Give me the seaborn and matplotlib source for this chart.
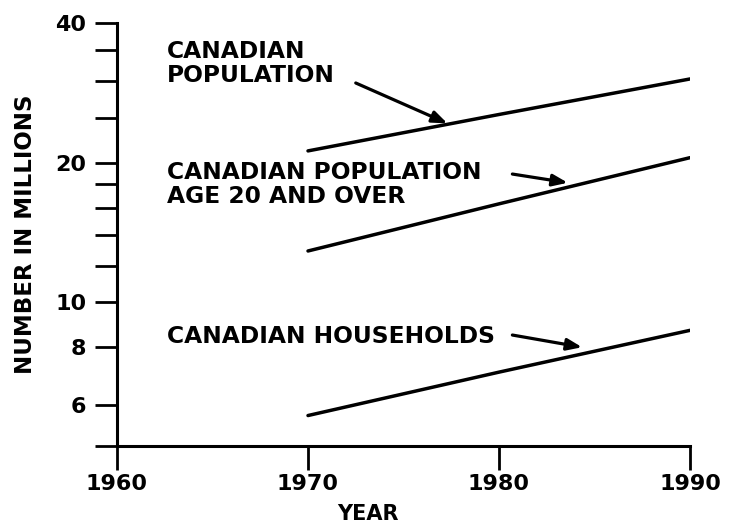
import numpy as np
import pandas as pd
import seaborn as sns
import matplotlib.pyplot as plt
from matplotlib.ticker import FixedLocator, NullFormatter

# values (millions)
years = [1970, 1980, 1990]
population = [21.2, 25.4, 30.3]
population_20_over = [12.9, 16.3, 20.5]
households = [5.7, 7.07, 8.7]

major_ticks = [6, 8, 10, 20, 40]
minor_ticks = [4.9, 12, 14, 16, 18, 25, 30, 35]
x_ticks = [1960, 1970, 1980, 1990]

df = pd.DataFrame({
    "year": years * 3,
    "value": population + population_20_over + households,
    "series": ["pop"] * 3 + ["pop20"] * 3 + ["hh"] * 3,
})

sns.set_style("ticks")
plt.rcParams["font.family"] = ["DejaVu Sans"]
plt.rcParams["font.weight"] = "bold"
plt.rcParams["text.color"] = "black"
plt.rcParams["axes.labelcolor"] = "black"

fig = plt.figure(figsize=(7.29, 5.26), dpi=100)
ax = fig.add_axes([117 / 729, 80 / 526, (690 - 117) / 729, (446 - 23) / 526])

sns.lineplot(data=df, x="year", y="value", hue="series",
             palette=["black", "black", "black"], linewidth=2.5,
             legend=False, ax=ax)

ax.set_yscale("log")
ax.set_ylim(4.9, 40)
ax.set_xlim(1960, 1990)

ax.yaxis.set_major_locator(FixedLocator(major_ticks))
ax.yaxis.set_major_formatter(plt.FixedFormatter([str(t) for t in major_ticks]))
ax.yaxis.set_minor_locator(FixedLocator(minor_ticks))
ax.yaxis.set_minor_formatter(NullFormatter())
ax.set_xticks(x_ticks)
ax.set_xticklabels([str(t) for t in x_ticks])

for s in ["top", "right"]:
    ax.spines[s].set_visible(False)
for s in ["left", "bottom"]:
    ax.spines[s].set_linewidth(2.2)
    ax.spines[s].set_color("black")

ax.tick_params(axis="y", which="both", length=16, width=2, direction="out",
               pad=6, labelsize=16, colors="black")
ax.tick_params(axis="x", which="major", length=17, width=2, direction="out",
               pad=3, labelsize=16, colors="black")

ax.set_xlabel("YEAR", fontsize=15, fontweight="bold")
ax.set_ylabel("NUMBER IN MILLIONS", fontsize=16.5, fontweight="bold")
ax.xaxis.set_label_coords((368 - 117) / 573, -0.138)
ax.yaxis.set_label_coords(-0.14, 0.5)

arrow = dict(arrowstyle="-|>,head_length=0.9,head_width=0.35", color="black",
             lw=2.3, shrinkA=0, shrinkB=0)
fs = 16.8
ax.annotate("", xy=(1977.3, 24.3), xytext=(1972.5, 29.7), arrowprops=arrow)
ax.annotate("", xy=(1983.6, 18.1), xytext=(1980.7, 18.9), arrowprops=arrow)
ax.annotate("", xy=(1984.35, 8.0), xytext=(1980.7, 8.5), arrowprops=arrow)

ax.text(1962.6, 36.8, "CANADIAN\nPOPULATION", fontsize=fs, fontweight="bold",
        va="top", ha="left", linespacing=1.08)
ax.text(1962.6, 20.2, "CANADIAN POPULATION\nAGE 20 AND OVER", fontsize=fs,
        fontweight="bold", va="top", ha="left", linespacing=1.08)
ax.text(1962.6, 8.45, "CANADIAN HOUSEHOLDS", fontsize=fs, fontweight="bold",
        va="center", ha="left")

fig.savefig("out.png", dpi=100)
